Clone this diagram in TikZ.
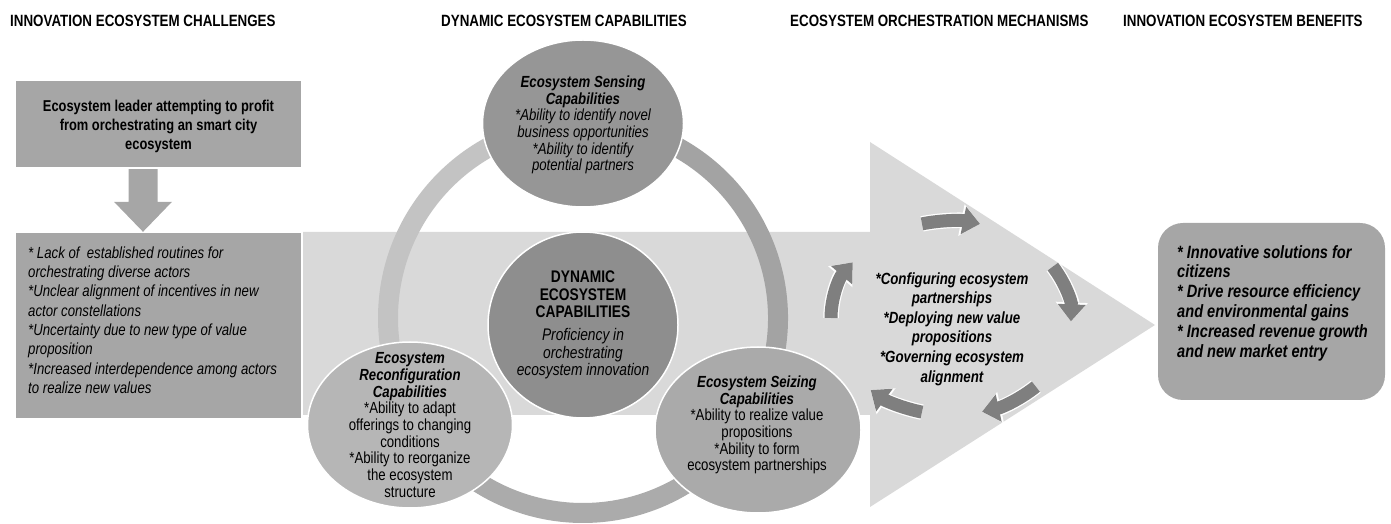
\documentclass[tikz,border=0pt]{standalone}
\usepackage{fontspec}
\setmainfont{Liberation Sans}[FakeStretch=0.82]
\usetikzlibrary{shapes.geometric,arrows.meta,calc}

\definecolor{boxgray}{HTML}{A6A6A6}
\definecolor{bandgray}{HTML}{D9D9D9}
\definecolor{ringlight}{HTML}{C3C3C3}
\definecolor{ringdark}{HTML}{A3A3A3}
\definecolor{ringmid}{HTML}{ABABAB}
\definecolor{sensefill}{HTML}{969696}
\definecolor{corefill}{HTML}{8E8E8E}
\definecolor{reconffill}{HTML}{B6B6B6}
\definecolor{seizefill}{HTML}{AAAAAA}
\definecolor{cyclegray}{HTML}{7F7F7F}

\begin{document}
\begin{tikzpicture}[x=1pt,y=1pt,
  hdr/.style={font=\fontsize{16.3}{18}\selectfont\bfseries, anchor=base west, inner sep=0},
  panel/.style={fill=boxgray, inner sep=0},
  bubble/.style={ellipse, draw=white, line width=1.5pt, inner sep=0},
  bubbletext/.style={align=center, inner sep=0, font=\fontsize{16.1}{16.7}\selectfont},
  ringarc/.style={line width=20pt},
  cyclearrow/.style={draw=cyclegray, line width=13pt, -{Triangle[width=27pt,length=17pt]},
    preaction={draw=white, line width=15.5pt, -{Triangle[width=31pt,length=19pt]}}}
]
\useasboundingbox (0,0) rectangle (1391,524);

% column headings
\node[hdr] (h1) at (10,497) {INNOVATION ECOSYSTEM CHALLENGES};
\node[hdr] (h2) at (441,497) {DYNAMIC ECOSYSTEM CAPABILITIES};
\node[hdr] (h3) at (790,497) {ECOSYSTEM ORCHESTRATION MECHANISMS};
\node[hdr] (h4) at (1123,497) {INNOVATION ECOSYSTEM BENEFITS};

% large background arrow
\fill[bandgray] (303,292) -- (870,292) -- (870,382) -- (1155,199) -- (870,17)
  -- (870,109) -- (303,109) -- cycle;

% ring linking the three capabilities
\coordinate (ringc) at (583,206);
\draw[ringarc, ringlight] (ringc) ++(90:195pt) arc[start angle=90, end angle=212, radius=195pt];
\draw[ringarc, ringdark] (ringc) ++(-33:195pt) arc[start angle=-33, end angle=90, radius=195pt];
\draw[ringarc, ringmid] (ringc) ++(212:195pt) arc[start angle=212, end angle=327, radius=195pt];

% challenges column
\node[panel, minimum width=285pt, minimum height=86pt] (lead) at (158.5,400) {};
\node[align=center, inner sep=0, font=\bfseries\fontsize{15.7}{19}\selectfont] (leadText) at ($(lead.center)+(0,-2)$)
  {Ecosystem leader attempting to profit\\from orchestrating an smart city\\ecosystem};
\node[panel, minimum width=285pt, minimum height=185pt] (issues) at (158.5,198.5) {};
\node[anchor=west, align=left, inner sep=0, font=\itshape\fontsize{16.1}{19.3}\selectfont] (issuesText) at (28,204)
  {* Lack of \ established routines for\\orchestrating diverse actors\\*Unclear alignment of incentives in new\\actor constellations\\*Uncertainty due to new type of value\\proposition\\*Increased interdependence among actors\\to realize new values};
\fill[boxgray] ($(lead.south)+(-30,-2)$) -- ($(lead.south)+(-1,-2)$) -- ($(issues.north)+(-1,31)$)
  -- ($(issues.north)+(13.5,31)$) -- ($(issues.north)+(-15.5,1)$) -- ($(issues.north)+(-44.5,31)$)
  -- ($(issues.north)+(-30,31)$) -- cycle;

% capability bubbles
\node[bubble, fill=corefill, minimum width=190pt, minimum height=186pt] (core) at (583,199) {};
\node[bubble, fill=sensefill, minimum width=201pt, minimum height=167pt] (sense) at (583,400.5) {};
\node[bubble, fill=reconffill, minimum width=205pt, minimum height=166pt] (reconf) at (410,99) {};
\node[bubble, fill=seizefill, minimum width=206pt, minimum height=166pt] (seize) at (758,94) {};

\node[align=center, inner sep=0, font=\fontsize{16.8}{17.5}\selectfont] (coreText) at (core.center)
  {{\bfseries DYNAMIC}\\{\bfseries ECOSYSTEM}\\{\bfseries CAPABILITIES}\\[5.5pt]
   {\itshape Proficiency in}\\{\itshape orchestrating}\\{\itshape ecosystem innovation}};
\node[bubbletext, font=\itshape\fontsize{16.1}{16.7}\selectfont] (senseText) at ($(sense.center)+(0,-1.5)$)
  {{\bfseries Ecosystem Sensing}\\{\bfseries Capabilities}\\*Ability to identify novel\\business opportunities\\*Ability to identify\\potential partners};
\node[bubbletext] (reconfText) at (reconf.center)
  {{\bfseries\itshape Ecosystem}\\{\bfseries\itshape Reconfiguration}\\{\bfseries\itshape Capabilities}\\*Ability to adapt\\offerings to changing\\conditions\\*Ability to reorganize\\the ecosystem\\structure};
\node[bubbletext] (seizeText) at ($(seize.center)+(-1,5)$)
  {{\bfseries\itshape Ecosystem Seizing}\\{\bfseries\itshape Capabilities}\\*Ability to realize value\\propositions\\*Ability to form\\ecosystem partnerships};

% orchestration cycle
\coordinate (cyc) at (951,206);
\foreach \a/\b in {104/76, 32/-2, -45/-75, -104/-132, 180/145} {
  \draw[cyclearrow] (cyc) ++(\a:120pt and 97pt) arc[start angle=\a, end angle=\b, x radius=120pt, y radius=97pt];
}
\node[align=center, inner sep=0, font=\bfseries\itshape\fontsize{16.2}{19.6}\selectfont] (orchText) at (952,195)
  {*Configuring ecosystem\\partnerships\\*Deploying new value\\propositions\\*Governing ecosystem\\alignment};

% benefits column
\node[panel, rounded corners=25pt, minimum width=227pt, minimum height=177pt] (benefit) at (1271.5,212.5) {};
\node[anchor=west, align=left, inner sep=0, font=\bfseries\itshape\fontsize{17.8}{19.8}\selectfont] (benefitText) at (1177,221)
  {* Innovative solutions for\\citizens\\* Drive resource efficiency\\and environmental gains\\* Increased revenue growth\\and new market entry};
\end{tikzpicture}
\end{document}
